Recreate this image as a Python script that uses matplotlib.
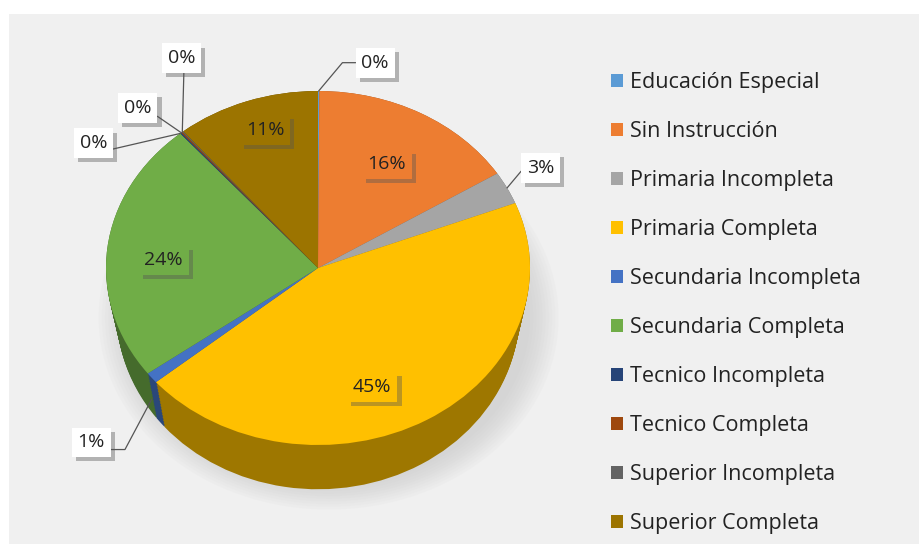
import numpy as np
import matplotlib
matplotlib.use('Agg')
import matplotlib.pyplot as plt
import matplotlib.patheffects as pe
import matplotlib.transforms as mtrans
from matplotlib.patches import Rectangle, Ellipse

categories = ['Educación Especial', 'Sin Instrucción', 'Primaria Incompleta',
              'Primaria Completa', 'Secundaria Incompleta', 'Secundaria Completa',
              'Tecnico Incompleta', 'Tecnico Completa', 'Superior Incompleta',
              'Superior Completa']
values = [0.1, 16, 3, 45, 1, 24, 0.1, 0.1, 0.1, 11]
pct_labels = ['0%', '16%', '3%', '45%', '1%', '24%', '0%', '0%', '0%', '11%']
colors = ['#5B9BD5', '#ED7D31', '#A5A5A5', '#FFC000', '#4472C4', '#70AD47',
          '#264478', '#9E480E', '#636363', '#9C7400']

# labels drawn inside the slices: index -> (radius, angle shift in degrees)
inside = {1: (0.67, 0), 3: (0.72, -10), 5: (0.73, 3), 9: (0.82, -2)}
# outside labels: slice index -> (text x, text y) in pie units
outside = {0: (0.27, 1.16), 2: (1.05, 0.565), 4: (-1.07, -0.985),
           6: (-1.06, 0.705), 7: (-0.85, 0.905), 8: (-0.645, 1.185)}

W, H = 920, 544
cx, cy = 318, 268      # pie centre in pixels (from top)
rx, ry = 212, 177      # ellipse radii in pixels
depth = 0.25

fig = plt.figure(figsize=(W / 100, H / 100), dpi=100)
fig.patch.set_facecolor('white')
fig.patches.append(Rectangle((9 / W, 0), 1, 1 - 14 / H, transform=fig.transFigure,
                             facecolor='#F0F0F0', edgecolor='none', zorder=-10))

ax = fig.add_axes([0, 0, 1, 1])
ax.set_facecolor('none')

# soft shadow under the pie
for k in range(10):
    ax.add_patch(Ellipse((0.05, -depth - 0.03), 1.9 + k * 0.03, 1.9 + k * 0.03,
                         facecolor='#bbbbbb', alpha=0.06, edgecolor='none', zorder=0))

# side of the 3D pie, narrowing a little towards the bottom
dark = [tuple(np.array(matplotlib.colors.to_rgb(c)) * 0.62) for c in colors]
for d in np.linspace(depth, 0, 30):
    sx = 1 - 0.2 * d
    side, _ = ax.pie(values, colors=dark, startangle=90, counterclock=False,
                     radius=1.0, wedgeprops=dict(linewidth=0, zorder=1))
    tr = mtrans.Affine2D().scale(sx, 1).translate(0, -d) + ax.transData
    for s in side:
        s.set_transform(tr)

wedges, _ = ax.pie(values, colors=colors, startangle=90, counterclock=False,
                   radius=1.0, wedgeprops=dict(linewidth=0, zorder=2))
ax.set_aspect('auto')
ax.set_xlim(-cx / rx, (W - cx) / rx)
ax.set_ylim((cy - H) / ry, cy / ry)
ax.axis('off')

shadow = [pe.withSimplePatchShadow(offset=(3, -3), shadow_rgbFace='#555555', alpha=0.4)]
font = 'Open Sans'

for i, w in enumerate(wedges):
    mid = (w.theta1 + w.theta2) / 2
    if i in inside:
        r, shift = inside[i]
        a = np.deg2rad(mid + shift)
        t = ax.text(r * np.cos(a), r * np.sin(a), pct_labels[i], ha='center', va='center',
                    fontsize=14, family=font, color='#222222', zorder=5,
                    bbox=dict(boxstyle='square,pad=0.3', facecolor=colors[i],
                              edgecolor='none'))
        t.get_bbox_patch().set_path_effects(shadow)
        continue

    tx, ty = outside[i]
    if i in (6, 7, 8):
        a = np.deg2rad(w.theta2)
        px, py = np.cos(a), np.sin(a)
        conn = 'arc3'
        rel = {6: (1, 0.1), 7: (1, 0.25), 8: (0.6, 0)}[i]
    elif i == 4:
        a = np.deg2rad(mid)
        px, py = np.cos(a), np.sin(a) - 0.12
        conn = 'angle,angleA=0,angleB=62'
        rel = (1, 0.1)
    else:
        a = np.deg2rad(mid)
        px, py = np.cos(a), np.sin(a)
        conn = 'angle,angleA=0,angleB=50'
        rel = (0, 0.5)
    t = ax.annotate(pct_labels[i], xy=(px, py), xytext=(tx, ty),
                    ha='center', va='center', fontsize=14, family=font,
                    color='#222222', zorder=6,
                    bbox=dict(boxstyle='square,pad=0.3', facecolor='white',
                              edgecolor='none'),
                    arrowprops=dict(arrowstyle='-', color='#555555', lw=0.9,
                                    shrinkA=0, shrinkB=0, connectionstyle=conn,
                                    relpos=rel))
    t.get_bbox_patch().set_path_effects(shadow)

leg = fig.legend(wedges, categories, loc='upper left', bbox_to_anchor=(611 / W, 1 - 72 / H),
                 frameon=False, fontsize=15.5, handlelength=0.55, handleheight=0.55,
                 handletextpad=0.33, labelspacing=1.30, borderaxespad=0, borderpad=0)
for txt in leg.get_texts():
    txt.set_family(font)
    txt.set_color('#222222')

fig.savefig('out.png', dpi=100, facecolor=fig.get_facecolor())
